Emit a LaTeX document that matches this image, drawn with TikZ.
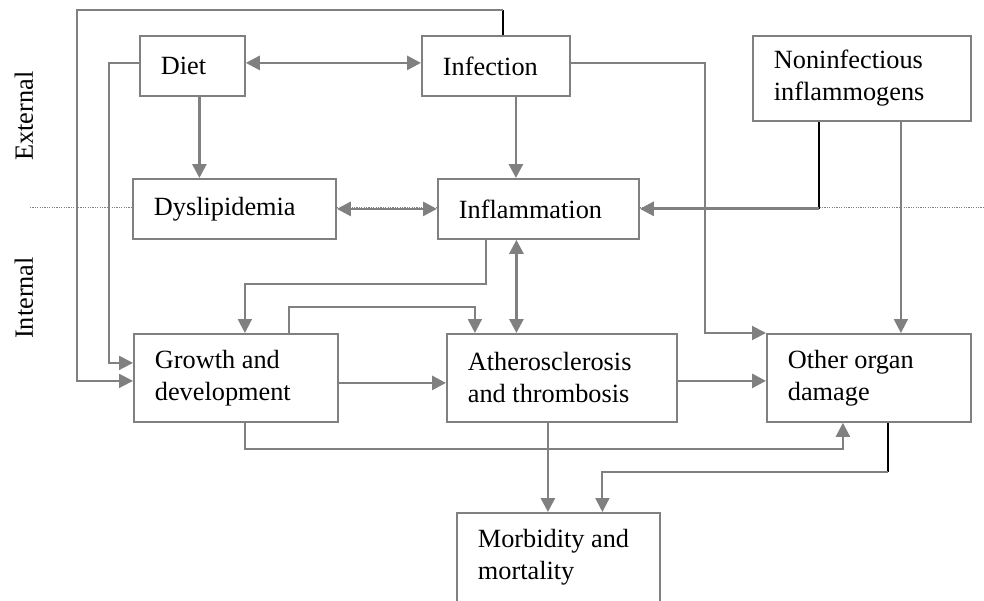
\documentclass[tikz,border=0pt]{standalone}
\usepackage{fontspec}
\setmainfont{Liberation Serif}
\usepackage{tikz}
\usetikzlibrary{positioning,arrows.meta,calc}
\definecolor{linegray}{RGB}{128,128,128}

\begin{document}
\begin{tikzpicture}[
        x=1pt, y=-1pt,
        font=\fontsize{26.3}{32}\selectfont,
        box/.style={draw=linegray, line width=1.8pt, fill=white, align=left, anchor=north west, inner xsep=21pt, inner ysep=0pt,
            execute at begin node={\spaceskip=0pt\xspaceskip=0pt}},
        line/.style={linegray, line width=2.8pt},
        route/.style={linegray, line width=2pt},
        stub/.style={black, line width=1.4pt},
        tip/.style={-{Triangle[length=14pt, width=14pt]}},
        both/.style={{Triangle[length=14pt, width=14pt]}-{Triangle[length=14pt, width=14pt]}},
        side/.style={rotate=90}
    ]
        \useasboundingbox (0,0) rectangle (984,600);
        % external / internal divide
        \draw[linegray, line width=0.8pt, dash pattern=on 1.2pt off 1.2pt] (30,207) coordinate (divL) -- (984,207) coordinate (divR);
        \node[side] (external) at (24,116) {External};
        \node[side] (internal) at (24,298) {Internal};

        \node[box, text width=63pt, minimum height=60pt] (diet) at (139,35) {Diet};
        \node[box, text width=106pt, minimum height=60pt] (infection) at (421,35) {Infection};
        \node[box, text width=176pt, minimum height=85pt] (noninf) at (752,35) {Noninfectious\\inflammogens};
        \node[box, text width=161pt, minimum height=60pt] (dyslip) at (132,178) {Dyslipidemia};
        \node[box, text width=159pt, minimum height=60pt] (inflam) at (437,178) {Inflammation};
        \node[box, text width=162pt, minimum height=88pt] (growth) at (133,333) {Growth and\\development};
        \node[box, text width=188pt, minimum height=88pt] (athero) at (446,333) {Atherosclerosis\\and thrombosis};
        \node[box, text width=162pt, minimum height=88pt] (organ) at (766,333) {Other organ\\damage};
        \node[box, text width=161pt, minimum height=89pt] (morbid) at (456,512) {Morbidity and\\mortality};

        % loops round the left side
        \draw[stub] ($(infection.north)+(7,0)$) -- ++(0,-25) coordinate (loopTop);
        \draw[route, tip] (loopTop) -| ($(growth.west)+(-56,3)$) -- ($(growth.west)+(0,3)$);
        \draw[route, tip] ($(diet.west)+(0,-3)$) -| ($(growth.west)+(-24,-15)$) -- ($(growth.west)+(0,-15)$);

        \draw[line, both] ($(diet.east)+(0,-3)$) -- ($(infection.west)+(0,-3)$);
        \draw[line, tip] ($(diet.south)+(7,0)$) coordinate (d1) -- (d1 |- dyslip.north);
        \draw[line, tip] ($(infection.south)+(20,0)$) coordinate (i1) -- (i1 |- inflam.north);
        \draw[line, both] (dyslip.east) -- (inflam.west);

        \draw[stub] ($(noninf.south)+(-43,0)$) -- ++(0,87) coordinate (n1);
        \draw[line, tip] (n1) -- (n1 -| inflam.east);
        \draw[route, tip] ($(noninf.south)+(39,0)$) coordinate (n2) -- (n2 |- organ.north);
        \draw[route, tip] ($(infection.east)+(0,-3)$) -| ($(organ.north west)+(-61,0)$) -- (organ.north west);

        \draw[route, tip] ($(inflam.south)+(-52,0)$) -- ++(0,44) -| ($(growth.north)+(9,0)$);
        \draw[line, both] ($(inflam.south)+(-22,0)$) coordinate (a1) -- (a1 |- athero.north);
        \draw[route, tip] ($(growth.north)+(53,0)$) -- ++(0,-26) -| ($(athero.north)+(-87,0)$);

        \draw[line, tip] ($(growth.east)+(0,5)$) coordinate (g1) -- (g1 -| athero.west);
        \draw[line, tip] ($(athero.east)+(0,3)$) coordinate (g2) -- (g2 -| organ.west);
        \draw[route, tip] ($(growth.south)+(9,0)$) -- ++(0,26) -| ($(organ.south)+(-26,0)$);

        \draw[line, tip] ($(athero.south)+(-14,0)$) coordinate (m1) -- (m1 |- morbid.north);
        \draw[stub] ($(organ.south)+(19,0)$) -- ++(0,49) coordinate (o1);
        \draw[route, tip] (o1) -| ($(morbid.north)+(44,0)$);
    \end{tikzpicture}
\end{document}
